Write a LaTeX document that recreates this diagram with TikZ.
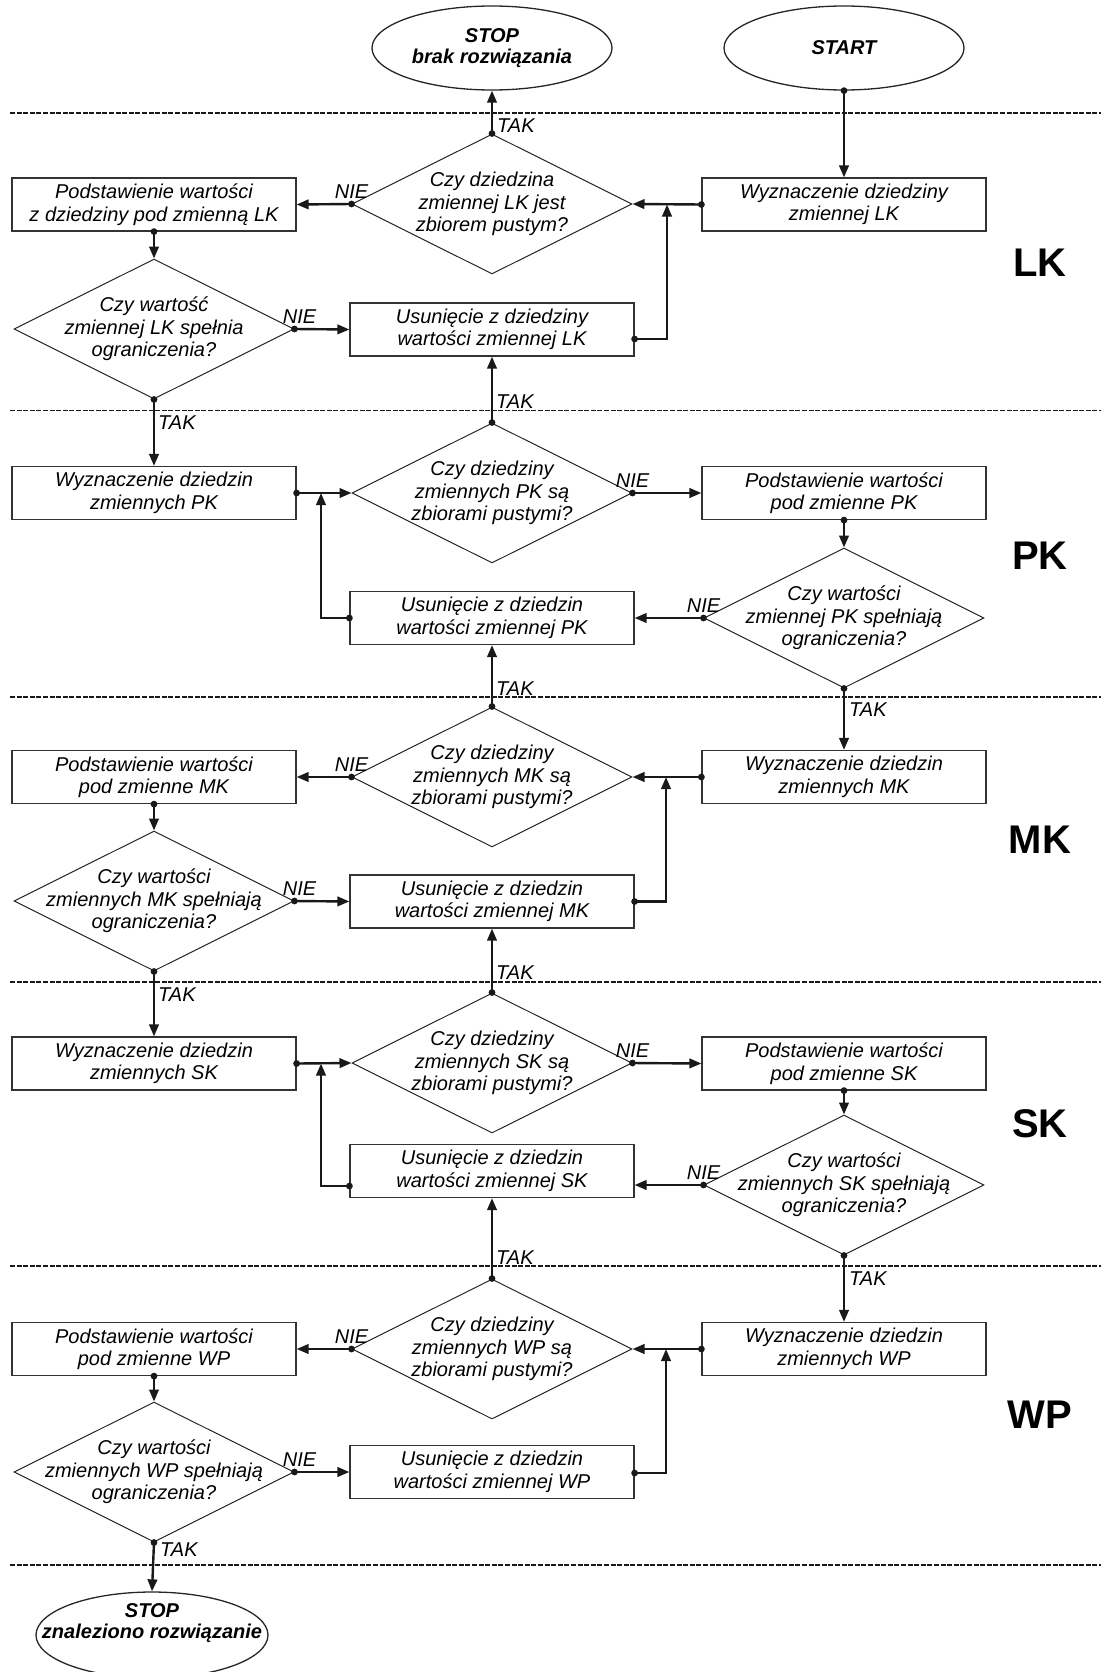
\documentclass[tikz,border=0pt]{standalone}
\usepackage{fontspec}
\setmainfont{Liberation Sans}
\usetikzlibrary{shapes.geometric,arrows.meta,decorations.markings}
\begin{document}
\begin{tikzpicture}[x=1pt,y=-1pt,
  box/.style={draw=black!80, line width=1.2pt, rectangle, minimum width=284pt, minimum height=53pt, inner sep=0pt, align=center, font=\fontsize{20}{22.5}\selectfont\itshape},
  dia/.style={draw=black!85, line width=1pt, diamond, minimum width=280pt, minimum height=140pt, inner sep=0pt},
  dtext/.style={align=center, font=\fontsize{20}{22.5}\selectfont\itshape, inner sep=0pt},
  term/.style={draw=black!85, line width=1.3pt, ellipse, minimum width=240pt, minimum height=84pt, inner sep=0pt},
  ttext/.style={align=center, font=\fontsize{20}{21.5}\selectfont\bfseries\itshape, inner sep=0pt},
  conn/.style={line width=2.4pt, draw=black!90, -{Triangle[length=12pt,width=9.5pt]}, postaction={decorate}, decoration={markings, mark=at position 0 with {\fill[black!90] (0,0) circle[radius=3.4pt];}}},
  lab/.style={font=\fontsize{20}{22}\selectfont\itshape, inner sep=0pt},
  sect/.style={font=\fontsize{40}{40}\selectfont\bfseries, inner sep=0pt},
  sepline/.style={line width=1.7pt, draw=black!90, dash pattern=on 5pt off 1.6pt}
]
\useasboundingbox (0,0) rectangle (1101,1672);

% separators
\foreach \yy in {113,410.5,697,982,1266,1565}{\draw[sepline] (10,\yy) -- (1101,\yy);}

% terminators
\node[term] (stop1) at (492,48) {};
\node[ttext] at (492,48) {STOP\\brak rozwiązania};
\node[term] (start) at (844,48) {};
\node[ttext] at (844,48) {START};

% ---------- LK ----------
\node[dia] (d1) at (492,204) {};
\node[dtext] at (d1) {Czy dziedzina\\zmiennej LK jest\\zbiorem pustym?};
\node[box] (lk1) at (154,204.5) {Podstawienie wartości\\z dziedziny pod zmienną LK};
\node[box] (lk0) at (844,204.5) {Wyznaczenie dziedziny\\zmiennej LK};
\node[dia] (d2) at (154,329) {};
\node[dtext] at (d2) {Czy wartość\\zmiennej LK spełnia\\ograniczenia?};
\node[box] (lk2) at (492,329.5) {Usunięcie z dziedziny\\wartości zmiennej LK};
\coordinate (j1) at (667,204.5);

\draw[conn] (start.south) -- (lk0.north);
\draw[conn] (d1.north) -- (stop1.south);
\draw[conn] (d1.west) -- (lk1.east);
\draw[conn] (lk1.south) -- (d2.north);
\draw[conn] (d2.east) -- (lk2.west);
\draw[conn] ([yshift=-9.5pt]lk2.east) -| (j1);
\draw[conn] (lk0.west) -- (d1.east);

% ---------- PK ----------
\node[dia] (d3) at (492,493) {};
\node[dtext] at (d3) {Czy dziedziny\\zmiennych PK są\\zbiorami pustymi?};
\node[box] (pk0) at (154,493) {Wyznaczenie dziedzin\\zmiennych PK};
\node[box] (pk1) at (844,493) {Podstawienie wartości\\pod zmienne PK};
\node[dia] (d4) at (844,618) {};
\node[dtext] at (d4) {Czy wartości\\zmiennej PK spełniają\\ograniczenia?};
\node[box] (pk2) at (492,618) {Usunięcie z dziedzin\\wartości zmiennej PK};
\coordinate (j2) at (321,493);

\draw[conn] (d2.south) -- (pk0.north);
\draw[conn] (d3.north) -- (lk2.south);
\draw[conn] (pk0.east) -- (d3.west);
\draw[conn] (d3.east) -- (pk1.west);
\draw[conn] (pk1.south) -- (d4.north);
\draw[conn] (d4.west) -- (pk2.east);
\draw[conn] (pk2.west) -| (j2);

% ---------- MK ----------
\node[dia] (d5) at (492,777) {};
\node[dtext] at (d5) {Czy dziedziny\\zmiennych MK są\\zbiorami pustymi?};
\node[box] (mk1) at (154,777) {Podstawienie wartości\\pod zmienne MK};
\node[box] (mk0) at (844,777) {Wyznaczenie dziedzin\\zmiennych MK};
\node[dia] (d6) at (154,901) {};
\node[dtext] at (d6) {Czy wartości\\zmiennych MK spełniają\\ograniczenia?};
\node[box] (mk2) at (492,901.5) {Usunięcie z dziedzin\\wartości zmiennej MK};
\coordinate (j3) at (666,777);

\draw[conn] (d4.south) -- (mk0.north);
\draw[conn] (d5.north) -- (pk2.south);
\draw[conn] (d5.west) -- (mk1.east);
\draw[conn] (mk1.south) -- (d6.north);
\draw[conn] (d6.east) -- (mk2.west);
\draw[conn] (mk2.east) -| (j3);
\draw[conn] (mk0.west) -- (d5.east);

% ---------- SK ----------
\node[dia] (d7) at (492,1063) {};
\node[dtext] at (d7) {Czy dziedziny\\zmiennych SK są\\zbiorami pustymi?};
\node[box] (sk0) at (154,1063.5) {Wyznaczenie dziedzin\\zmiennych SK};
\node[box] (sk1) at (844,1063.5) {Podstawienie wartości\\pod zmienne SK};
\node[dia] (d8) at (844,1185) {};
\node[dtext] at (d8) {Czy wartości\\zmiennych SK spełniają\\ograniczenia?};
\node[box] (sk2) at (492,1171) {Usunięcie z dziedzin\\wartości zmiennej SK};
\coordinate (j4) at (321,1063.5);

\draw[conn] (d6.south) -- (sk0.north);
\draw[conn] (d7.north) -- (mk2.south);
\draw[conn] (sk0.east) -- (d7.west);
\draw[conn] (d7.east) -- (sk1.west);
\draw[conn] (sk1.south) -- (d8.north);
\draw[conn] (d8.west) -- (d8.west -| sk2.east);
\draw[conn] ([yshift=-15pt]sk2.west) -| (j4);

% ---------- WP ----------
\node[dia] (d9) at (492,1349) {};
\node[dtext] at (d9) {Czy dziedziny\\zmiennych WP są\\zbiorami pustymi?};
\node[box] (wp1) at (154,1349) {Podstawienie wartości\\pod zmienne WP};
\node[box] (wp0) at (844,1349) {Wyznaczenie dziedzin\\zmiennych WP};
\node[dia] (d10) at (154,1472) {};
\node[dtext] at (d10) {Czy wartości\\zmiennych WP spełniają\\ograniczenia?};
\node[box] (wp2) at (492,1472) {Usunięcie z dziedzin\\wartości zmiennej WP};
\coordinate (j5) at (666,1349);
\node[term, minimum width=232pt, minimum height=86pt] (stop2) at (152,1635) {};
\node[ttext] at (152,1623) {STOP\\znaleziono rozwiązanie};

\draw[conn] (d8.south) -- (wp0.north);
\draw[conn] (d9.north) -- (sk2.south);
\draw[conn] (d9.west) -- (wp1.east);
\draw[conn] (wp1.south) -- (d10.north);
\draw[conn] (d10.east) -- (wp2.west);
\draw[conn] ([yshift=-1pt]wp2.east) -| (j5);
\draw[conn] (wp0.west) -- (d9.east);
\draw[conn] (d10.south) -- (stop2.north);

% NIE labels
\foreach \p in {d1.west,d3.east,d4.west,d5.west,d7.east,d8.west,d9.west}{
  \node[lab, anchor=south, yshift=5pt] at (\p) {NIE};}
\foreach \p in {d2.east,d6.east,d10.east}{
  \node[lab, anchor=south, yshift=5pt, xshift=5pt] at (\p) {NIE};}

% TAK labels
\node[lab, anchor=base west] at (497,133) {TAK};
\node[lab, anchor=base west] at (158,429) {TAK};
\node[lab, anchor=base west] at (496,408) {TAK};
\node[lab, anchor=base west] at (849,716) {TAK};
\node[lab, anchor=base west] at (496,695) {TAK};
\node[lab, anchor=base west] at (158,1001) {TAK};
\node[lab, anchor=base west] at (496,979) {TAK};
\node[lab, anchor=base west] at (849,1285) {TAK};
\node[lab, anchor=base west] at (496,1264) {TAK};
\node[lab, anchor=base west] at (160,1556) {TAK};

% section labels
\node[sect] at (1040,263) {LK};
\node[sect] at (1040,556) {PK};
\node[sect] at (1040,840) {MK};
\node[sect] at (1040,1124) {SK};
\node[sect] at (1040,1415) {WP};
\end{tikzpicture}
\end{document}
